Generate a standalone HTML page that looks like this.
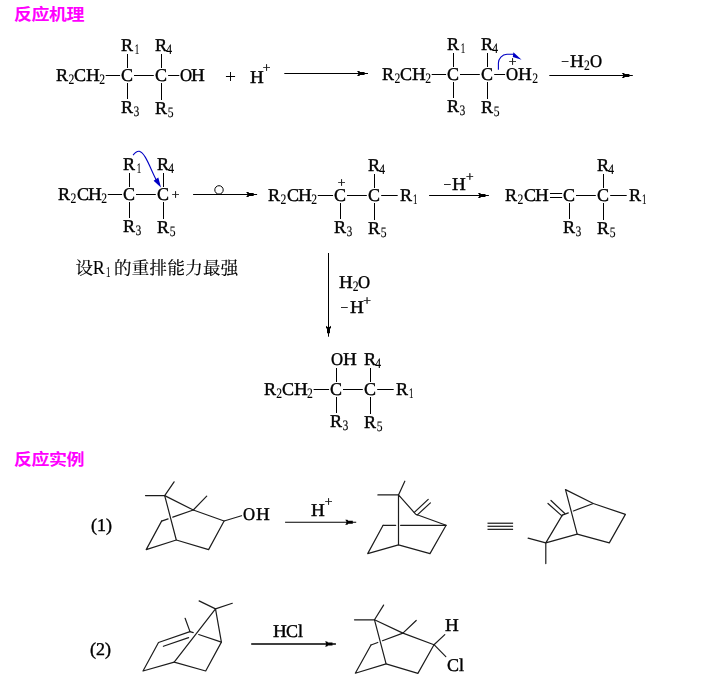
<!DOCTYPE html>
<html lang="zh"><head><meta charset="utf-8"><title>反应机理</title>
<style>
html,body{margin:0;padding:0;background:#fff;}
body{width:714px;height:685px;overflow:hidden;position:relative;font-family:"Liberation Serif","Noto Serif CJK SC",serif;}
h2{position:absolute;margin:0;left:14.2px;font:bold 15.8px/20px "Liberation Sans","Noto Sans CJK SC",sans-serif;color:#f0f;white-space:nowrap;letter-spacing:-0.45px;transform:scaleX(1.14);transform-origin:0 0}
svg{position:absolute;left:0;top:0;will-change:transform;}
svg text{font-family:"Liberation Serif","Noto Serif CJK SC",serif;fill:#000;text-rendering:geometricPrecision;white-space:pre;stroke:#000;stroke-width:0.4px}

svg text.cn{stroke-width:0.2px;font-weight:400;text-rendering:auto}
svg text.cn .l{stroke-width:0.1px}
svg text .s{stroke-width:0.15px}
</style></head><body>
<h2 style="top:5.2px">反应机理</h2>
<h2 style="top:450.2px">反应实例</h2>
<svg width="714" height="685" viewBox="0 0 714 685">
<text font-size="18"><tspan x="56" y="81">R</tspan><tspan x="68.39" y="84" font-size="14.5" class="s" textLength="5.8" lengthAdjust="spacingAndGlyphs">2</tspan><tspan x="74" y="81">C</tspan><tspan x="86" y="81" textLength="13.78" lengthAdjust="spacingAndGlyphs">H</tspan><tspan x="99.19" y="84" font-size="14.5" class="s" textLength="5.8" lengthAdjust="spacingAndGlyphs">2</tspan></text>
<line x1="105.7" y1="75.5" x2="120.1" y2="75.5" stroke="#000" stroke-width="1"/>
<text font-size="18"><tspan x="121" y="81">C</tspan></text>
<text font-size="18"><tspan x="155" y="81">C</tspan></text>
<line x1="134" y1="75.5" x2="153.8" y2="75.5" stroke="#000" stroke-width="1"/>
<text font-size="18"><tspan x="121" y="51">R</tspan><tspan x="134.71" y="54" font-size="14.5" class="s" textLength="4.5" lengthAdjust="spacingAndGlyphs">1</tspan></text>
<line x1="127.5" y1="54" x2="127.5" y2="68" stroke="#000" stroke-width="1"/>
<text font-size="18"><tspan x="121" y="113">R</tspan><tspan x="133.54" y="116" font-size="14.5" class="s" textLength="5.8" lengthAdjust="spacingAndGlyphs">3</tspan></text>
<line x1="127.5" y1="83" x2="127.5" y2="99" stroke="#000" stroke-width="1"/>
<text font-size="18"><tspan x="155" y="51">R</tspan><tspan x="166.27" y="54" font-size="14.5" class="s" textLength="5.8" lengthAdjust="spacingAndGlyphs">4</tspan></text>
<line x1="161.5" y1="54" x2="161.5" y2="68" stroke="#000" stroke-width="1"/>
<text font-size="18"><tspan x="155" y="114">R</tspan><tspan x="167.63" y="117" font-size="14.5" class="s" textLength="5.8" lengthAdjust="spacingAndGlyphs">5</tspan></text>
<line x1="161.5" y1="83" x2="161.5" y2="100" stroke="#000" stroke-width="1"/>
<line x1="168.1" y1="75.5" x2="179.3" y2="75.5" stroke="#000" stroke-width="1"/>
<text font-size="18"><tspan x="180" y="81" textLength="12.09" lengthAdjust="spacingAndGlyphs">O</tspan><tspan x="191" y="81" textLength="13.78" lengthAdjust="spacingAndGlyphs">H</tspan></text>
<text x="224.99" y="83" font-size="19.5" style="stroke-width:0.03px">+</text>
<text font-size="18"><tspan x="250" y="83" textLength="13.78" lengthAdjust="spacingAndGlyphs">H</tspan></text>
<text x="262.67" y="72" font-size="13.55" style="stroke-width:0.33px">+</text>
<line x1="284.3" y1="73.5" x2="368" y2="73.5" stroke="#000" stroke-width="1"/>
<path d="M357 71 h2.2 l0.9 1 h4.5 v3 h-4.5 l-0.9 1 h-2.2 l1.2 -1.6 v-1.8 z" fill="#000"/>
<text font-size="18"><tspan x="382" y="80">R</tspan><tspan x="394.39" y="83" font-size="14.5" class="s" textLength="5.8" lengthAdjust="spacingAndGlyphs">2</tspan><tspan x="400" y="80">C</tspan><tspan x="412" y="80" textLength="13.78" lengthAdjust="spacingAndGlyphs">H</tspan><tspan x="425.19" y="83" font-size="14.5" class="s" textLength="5.8" lengthAdjust="spacingAndGlyphs">2</tspan></text>
<line x1="431.7" y1="74.5" x2="446.1" y2="74.5" stroke="#000" stroke-width="1"/>
<text font-size="18"><tspan x="447" y="80">C</tspan></text>
<text font-size="18"><tspan x="481" y="80">C</tspan></text>
<line x1="460" y1="74.5" x2="479.8" y2="74.5" stroke="#000" stroke-width="1"/>
<text font-size="18"><tspan x="447" y="50">R</tspan><tspan x="460.71" y="53" font-size="14.5" class="s" textLength="4.5" lengthAdjust="spacingAndGlyphs">1</tspan></text>
<line x1="453.5" y1="53" x2="453.5" y2="67" stroke="#000" stroke-width="1"/>
<text font-size="18"><tspan x="447" y="112">R</tspan><tspan x="459.54" y="115" font-size="14.5" class="s" textLength="5.8" lengthAdjust="spacingAndGlyphs">3</tspan></text>
<line x1="453.5" y1="82" x2="453.5" y2="98" stroke="#000" stroke-width="1"/>
<text font-size="18"><tspan x="481" y="50">R</tspan><tspan x="492.27" y="53" font-size="14.5" class="s" textLength="5.8" lengthAdjust="spacingAndGlyphs">4</tspan></text>
<line x1="487.5" y1="53" x2="487.5" y2="67" stroke="#000" stroke-width="1"/>
<text font-size="18"><tspan x="481" y="113">R</tspan><tspan x="493.63" y="116" font-size="14.5" class="s" textLength="5.8" lengthAdjust="spacingAndGlyphs">5</tspan></text>
<line x1="487.5" y1="82" x2="487.5" y2="99" stroke="#000" stroke-width="1"/>
<line x1="494.2" y1="74.5" x2="505.1" y2="74.5" stroke="#000" stroke-width="1"/>
<text font-size="18"><tspan x="506" y="80" textLength="12.09" lengthAdjust="spacingAndGlyphs">O</tspan><tspan x="518" y="80" textLength="13.78" lengthAdjust="spacingAndGlyphs">H</tspan><tspan x="532.19" y="83" font-size="14.5" class="s" textLength="5.8" lengthAdjust="spacingAndGlyphs">2</tspan></text>
<text x="508.77" y="66" font-size="13.55" style="stroke-width:0.33px">+</text>
<line x1="549.3" y1="75.5" x2="632.8" y2="75.5" stroke="#000" stroke-width="1"/>
<path d="M621.8 73 h2.2 l0.9 1 h4.5 v3 h-4.5 l-0.9 1 h-2.2 l1.2 -1.6 v-1.8 z" fill="#000"/>
<text font-size="18"><tspan x="561.23" y="66" font-size="13.55" style="stroke-width:0.3px">−</tspan><tspan x="570" y="67" textLength="13.78" lengthAdjust="spacingAndGlyphs">H</tspan><tspan x="584.09" y="70" font-size="14.5" class="s" textLength="5.8" lengthAdjust="spacingAndGlyphs">2</tspan><tspan x="590" y="67" textLength="12.09" lengthAdjust="spacingAndGlyphs">O</tspan></text>
<path d="M498.4 69.8 L498.4 63 C498.5 58.5 502 54.5 507 54.2 L514 54.2" fill="none" stroke="#0000c4" stroke-width="1.1"/>
<path d="M521.6 59.7 L512.8 57 L513.4 52.3 Z" fill="#0000c4"/>
<text font-size="18"><tspan x="58" y="200">R</tspan><tspan x="70.49" y="203" font-size="14.5" class="s" textLength="5.8" lengthAdjust="spacingAndGlyphs">2</tspan><tspan x="77" y="200">C</tspan><tspan x="88" y="200" textLength="13.78" lengthAdjust="spacingAndGlyphs">H</tspan><tspan x="101.29" y="203" font-size="14.5" class="s" textLength="5.8" lengthAdjust="spacingAndGlyphs">2</tspan></text>
<line x1="107.8" y1="194.5" x2="122.1" y2="194.5" stroke="#000" stroke-width="1"/>
<text font-size="18"><tspan x="123" y="200">C</tspan></text>
<text font-size="18"><tspan x="157" y="200">C</tspan></text>
<line x1="136" y1="194.5" x2="155.8" y2="194.5" stroke="#000" stroke-width="1"/>
<text font-size="18"><tspan x="123" y="170">R</tspan><tspan x="136.71" y="173" font-size="14.5" class="s" textLength="4.5" lengthAdjust="spacingAndGlyphs">1</tspan></text>
<line x1="129.5" y1="173" x2="129.5" y2="187" stroke="#000" stroke-width="1"/>
<text font-size="18"><tspan x="123" y="232">R</tspan><tspan x="135.54" y="235" font-size="14.5" class="s" textLength="5.8" lengthAdjust="spacingAndGlyphs">3</tspan></text>
<line x1="129.5" y1="202" x2="129.5" y2="218" stroke="#000" stroke-width="1"/>
<text font-size="18"><tspan x="157" y="170">R</tspan><tspan x="168.27" y="173" font-size="14.5" class="s" textLength="5.8" lengthAdjust="spacingAndGlyphs">4</tspan></text>
<line x1="163.5" y1="173" x2="163.5" y2="187" stroke="#000" stroke-width="1"/>
<text font-size="18"><tspan x="157" y="233">R</tspan><tspan x="169.63" y="236" font-size="14.5" class="s" textLength="5.8" lengthAdjust="spacingAndGlyphs">5</tspan></text>
<line x1="163.5" y1="202" x2="163.5" y2="219" stroke="#000" stroke-width="1"/>
<text x="171.67" y="199" font-size="13.55" style="stroke-width:0.33px">+</text>
<line x1="193.1" y1="194.5" x2="257.1" y2="194.5" stroke="#000" stroke-width="1"/>
<path d="M246.1 192 h2.2 l0.9 1 h4.5 v3 h-4.5 l-0.9 1 h-2.2 l1.2 -1.6 v-1.8 z" fill="#000"/>
<circle cx="219" cy="189.9" r="4.2" fill="#fff" stroke="#000" stroke-width="1"/>
<path d="M133.1 155.2 C135.4 152.2 137.4 151 139.3 151.3 C145.5 153 150 168 156.8 181" fill="none" stroke="#0000c4" stroke-width="1.1"/>
<path d="M161 187.6 L153.6 180.8 L158.3 177.6 Z" fill="#0000c4"/>
<text font-size="18"><tspan x="268" y="201">R</tspan><tspan x="280.49" y="204" font-size="14.5" class="s" textLength="5.8" lengthAdjust="spacingAndGlyphs">2</tspan><tspan x="287" y="201">C</tspan><tspan x="298" y="201" textLength="13.78" lengthAdjust="spacingAndGlyphs">H</tspan><tspan x="311.29" y="204" font-size="14.5" class="s" textLength="5.8" lengthAdjust="spacingAndGlyphs">2</tspan></text>
<line x1="317.8" y1="195.5" x2="333.1" y2="195.5" stroke="#000" stroke-width="1"/>
<text font-size="18"><tspan x="334" y="201">C</tspan></text>
<text font-size="18"><tspan x="368" y="201">C</tspan></text>
<line x1="347" y1="195.5" x2="366.8" y2="195.5" stroke="#000" stroke-width="1"/>
<text font-size="18"><tspan x="334" y="233">R</tspan><tspan x="346.54" y="236" font-size="14.5" class="s" textLength="5.8" lengthAdjust="spacingAndGlyphs">3</tspan></text>
<line x1="340.5" y1="203" x2="340.5" y2="219" stroke="#000" stroke-width="1"/>
<text font-size="18"><tspan x="368" y="171">R</tspan><tspan x="379.27" y="174" font-size="14.5" class="s" textLength="5.8" lengthAdjust="spacingAndGlyphs">4</tspan></text>
<line x1="374.5" y1="174" x2="374.5" y2="188" stroke="#000" stroke-width="1"/>
<text font-size="18"><tspan x="368" y="234">R</tspan><tspan x="380.63" y="237" font-size="14.5" class="s" textLength="5.8" lengthAdjust="spacingAndGlyphs">5</tspan></text>
<line x1="374.5" y1="203" x2="374.5" y2="220" stroke="#000" stroke-width="1"/>
<line x1="381.2" y1="195.5" x2="397.7" y2="195.5" stroke="#000" stroke-width="1"/>
<text font-size="18"><tspan x="400" y="201">R</tspan><tspan x="413.01" y="204" font-size="14.5" class="s" textLength="4.5" lengthAdjust="spacingAndGlyphs">1</tspan></text>
<text x="337.67" y="187" font-size="13.55" style="stroke-width:0.33px">+</text>
<line x1="429.1" y1="195.5" x2="488.9" y2="195.5" stroke="#000" stroke-width="1"/>
<path d="M477.9 193 h2.2 l0.9 1 h4.5 v3 h-4.5 l-0.9 1 h-2.2 l1.2 -1.6 v-1.8 z" fill="#000"/>
<text font-size="18"><tspan x="443.43" y="189" font-size="13.55" style="stroke-width:0.3px">−</tspan><tspan x="452" y="190" textLength="13.78" lengthAdjust="spacingAndGlyphs">H</tspan></text>
<text x="466.07" y="181" font-size="13.55" style="stroke-width:0.33px">+</text>
<text font-size="18"><tspan x="505" y="201">R</tspan><tspan x="517.59" y="204" font-size="14.5" class="s" textLength="5.8" lengthAdjust="spacingAndGlyphs">2</tspan><tspan x="524" y="201">C</tspan><tspan x="535" y="201" textLength="13.78" lengthAdjust="spacingAndGlyphs">H</tspan></text>
<line x1="550" y1="193.5" x2="562.2" y2="193.5" stroke="#000" stroke-width="1"/>
<line x1="550" y1="197.5" x2="562.2" y2="197.5" stroke="#000" stroke-width="1"/>
<text font-size="18"><tspan x="563" y="201">C</tspan></text>
<text font-size="18"><tspan x="597" y="201">C</tspan></text>
<line x1="576" y1="195.5" x2="595.8" y2="195.5" stroke="#000" stroke-width="1"/>
<text font-size="18"><tspan x="563" y="233">R</tspan><tspan x="575.54" y="236" font-size="14.5" class="s" textLength="5.8" lengthAdjust="spacingAndGlyphs">3</tspan></text>
<line x1="569.5" y1="203" x2="569.5" y2="219" stroke="#000" stroke-width="1"/>
<text font-size="18"><tspan x="597" y="171">R</tspan><tspan x="608.27" y="174" font-size="14.5" class="s" textLength="5.8" lengthAdjust="spacingAndGlyphs">4</tspan></text>
<line x1="603.5" y1="174" x2="603.5" y2="188" stroke="#000" stroke-width="1"/>
<text font-size="18"><tspan x="597" y="234">R</tspan><tspan x="609.63" y="237" font-size="14.5" class="s" textLength="5.8" lengthAdjust="spacingAndGlyphs">5</tspan></text>
<line x1="603.5" y1="203" x2="603.5" y2="220" stroke="#000" stroke-width="1"/>
<line x1="610.2" y1="195.5" x2="626.7" y2="195.5" stroke="#000" stroke-width="1"/>
<text font-size="18"><tspan x="629" y="201">R</tspan><tspan x="642.01" y="204" font-size="14.5" class="s" textLength="4.5" lengthAdjust="spacingAndGlyphs">1</tspan></text>
<text class="cn" font-size="17.5"><tspan x="75.6" y="274" letter-spacing="0.23">设</tspan><tspan class="l" x="92.7" y="274" font-size="18">R</tspan><tspan class="l" x="106" y="277" font-size="14.5" textLength="4.5" lengthAdjust="spacingAndGlyphs">1</tspan><tspan x="114" y="274" letter-spacing="0.3">的重排能力最强</tspan></text>
<line x1="328.5" y1="253" x2="328.5" y2="336.7" stroke="#000" stroke-width="1"/>
<path d="M326 325.7 v2.2 l1 0.9 v4.5 h3 v-4.5 l1 -0.9 v-2.2 l-1.6 1.2 h-1.8 z" fill="#000"/>
<text font-size="18"><tspan x="339" y="288" textLength="13.78" lengthAdjust="spacingAndGlyphs">H</tspan><tspan x="352.79" y="291" font-size="14.5" class="s" textLength="5.8" lengthAdjust="spacingAndGlyphs">2</tspan><tspan x="358" y="288" textLength="12.09" lengthAdjust="spacingAndGlyphs">O</tspan></text>
<text font-size="18"><tspan x="340.53" y="312" font-size="13.55" style="stroke-width:0.3px">−</tspan><tspan x="350" y="313" textLength="13.78" lengthAdjust="spacingAndGlyphs">H</tspan></text>
<text x="363.27" y="305" font-size="13.55" style="stroke-width:0.33px">+</text>
<text font-size="18"><tspan x="264" y="395">R</tspan><tspan x="276.29" y="398" font-size="14.5" class="s" textLength="5.8" lengthAdjust="spacingAndGlyphs">2</tspan><tspan x="282" y="395">C</tspan><tspan x="294" y="395" textLength="13.78" lengthAdjust="spacingAndGlyphs">H</tspan><tspan x="307.09" y="398" font-size="14.5" class="s" textLength="5.8" lengthAdjust="spacingAndGlyphs">2</tspan></text>
<line x1="313.6" y1="389.5" x2="329.1" y2="389.5" stroke="#000" stroke-width="1"/>
<text font-size="18"><tspan x="330" y="395">C</tspan></text>
<text font-size="18"><tspan x="364" y="395">C</tspan></text>
<line x1="343" y1="389.5" x2="362.8" y2="389.5" stroke="#000" stroke-width="1"/>
<text font-size="18"><tspan x="331" y="365" textLength="12.09" lengthAdjust="spacingAndGlyphs">O</tspan><tspan x="343" y="365" textLength="13.78" lengthAdjust="spacingAndGlyphs">H</tspan></text>
<line x1="336.5" y1="368" x2="336.5" y2="382" stroke="#000" stroke-width="1"/>
<text font-size="18"><tspan x="330" y="427">R</tspan><tspan x="342.54" y="430" font-size="14.5" class="s" textLength="5.8" lengthAdjust="spacingAndGlyphs">3</tspan></text>
<line x1="336.5" y1="397" x2="336.5" y2="413" stroke="#000" stroke-width="1"/>
<text font-size="18"><tspan x="364" y="365">R</tspan><tspan x="375.27" y="368" font-size="14.5" class="s" textLength="5.8" lengthAdjust="spacingAndGlyphs">4</tspan></text>
<line x1="370.5" y1="368" x2="370.5" y2="382" stroke="#000" stroke-width="1"/>
<text font-size="18"><tspan x="364" y="428">R</tspan><tspan x="376.63" y="431" font-size="14.5" class="s" textLength="5.8" lengthAdjust="spacingAndGlyphs">5</tspan></text>
<line x1="370.5" y1="397" x2="370.5" y2="414" stroke="#000" stroke-width="1"/>
<line x1="377.2" y1="389.5" x2="393.7" y2="389.5" stroke="#000" stroke-width="1"/>
<text font-size="18"><tspan x="396" y="395">R</tspan><tspan x="409.01" y="398" font-size="14.5" class="s" textLength="4.5" lengthAdjust="spacingAndGlyphs">1</tspan></text>
<text font-size="18"><tspan x="91" y="531">(</tspan><tspan y="531">1)</tspan></text>
<text font-size="18"><tspan x="90" y="655">(</tspan><tspan y="655">2)</tspan></text>
<path d="M145.5 495.6 L164.7 495.6 L174.1 481.8" fill="none" stroke="#1c1c1c" stroke-width="1.2" stroke-linejoin="round" stroke-linecap="round"/>
<path d="M164.7 495.6 L193.3 510 L206.7 496.2" fill="none" stroke="#1c1c1c" stroke-width="1.2" stroke-linejoin="round" stroke-linecap="round"/>
<path d="M193.3 510 L224.1 521 L241.5 515.7" fill="none" stroke="#1c1c1c" stroke-width="1.2" stroke-linejoin="round" stroke-linecap="round"/>
<path d="M224.1 521 L208.6 549.6 L176.3 540 L164.7 495.6" fill="none" stroke="#1c1c1c" stroke-width="1.2" stroke-linejoin="round" stroke-linecap="round"/>
<path d="M176.3 540 L146.2 549.6 L161.6 521.1" fill="none" stroke="#1c1c1c" stroke-width="1.2" stroke-linejoin="round" stroke-linecap="round"/>
<path d="M161.6 521.1 L168.09 518.83" fill="none" stroke="#1c1c1c" stroke-width="1.2" stroke-linejoin="round" stroke-linecap="round"/>
<path d="M172.81 517.18 L193.3 510" fill="none" stroke="#1c1c1c" stroke-width="1.2" stroke-linejoin="round" stroke-linecap="round"/>
<text font-size="18"><tspan x="243" y="520" textLength="12.09" lengthAdjust="spacingAndGlyphs">O</tspan><tspan x="256" y="520" textLength="13.78" lengthAdjust="spacingAndGlyphs">H</tspan></text>
<line x1="285.1" y1="522.2" x2="356.2" y2="522.2" stroke="#000" stroke-width="1.15"/>
<path d="M345.2 519.7 h2.2 l0.9 1 h4.5 v3 h-4.5 l-0.9 1 h-2.2 l1.2 -1.6 v-1.8 z" fill="#000"/>
<text font-size="18"><tspan x="311" y="516" textLength="13.78" lengthAdjust="spacingAndGlyphs">H</tspan></text>
<text x="324.67" y="506" font-size="13.55" style="stroke-width:0.33px">+</text>
<path d="M377.9 494.9 L398.5 494.9 L404.8 481.2" fill="none" stroke="#1c1c1c" stroke-width="1.2" stroke-linejoin="round" stroke-linecap="round"/>
<path d="M398.5 494.9 L415.8 514.3 L446.1 525.3 L430 553.6 L398.5 544.9 L398.5 494.9" fill="none" stroke="#1c1c1c" stroke-width="1.2" stroke-linejoin="round" stroke-linecap="round"/>
<path d="M414.3 512.4 L428.2 499.4" fill="none" stroke="#1c1c1c" stroke-width="1.2" stroke-linejoin="round" stroke-linecap="round"/>
<path d="M417.1 515.1 L430.4 502.9" fill="none" stroke="#1c1c1c" stroke-width="1.2" stroke-linejoin="round" stroke-linecap="round"/>
<path d="M398.5 544.9 L367.7 553.6 L383.1 525.3" fill="none" stroke="#1c1c1c" stroke-width="1.2" stroke-linejoin="round" stroke-linecap="round"/>
<path d="M383.1 525.3 L395.7 525.3" fill="none" stroke="#1c1c1c" stroke-width="1.2" stroke-linejoin="round" stroke-linecap="round"/>
<path d="M400.6 525.3 L446.1 525.3" fill="none" stroke="#1c1c1c" stroke-width="1.2" stroke-linejoin="round" stroke-linecap="round"/>
<line x1="487.5" y1="523.2" x2="513.1" y2="523.2" stroke="#000" stroke-width="1.1"/>
<line x1="487.5" y1="526.25" x2="513.1" y2="526.25" stroke="#000" stroke-width="1.1"/>
<line x1="487.5" y1="529.3" x2="513.1" y2="529.3" stroke="#000" stroke-width="1.1"/>
<path d="M565.5 489.6 L593.3 503.5 L625.4 514.4 L609.3 542.9 L577.2 534.1 L565.5 489.6" fill="none" stroke="#1c1c1c" stroke-width="1.2" stroke-linejoin="round" stroke-linecap="round"/>
<path d="M577.2 534.1 L545.8 542.9 L562.3 515.1" fill="none" stroke="#1c1c1c" stroke-width="1.2" stroke-linejoin="round" stroke-linecap="round"/>
<path d="M562.3 515.1 L568.32 512.85" fill="none" stroke="#1c1c1c" stroke-width="1.2" stroke-linejoin="round" stroke-linecap="round"/>
<path d="M573.38 510.95 L593.3 503.5" fill="none" stroke="#1c1c1c" stroke-width="1.2" stroke-linejoin="round" stroke-linecap="round"/>
<path d="M551 500.5 L564.8 513.5" fill="none" stroke="#1c1c1c" stroke-width="1.2" stroke-linejoin="round" stroke-linecap="round"/>
<path d="M548 503.5 L561.9 515.9" fill="none" stroke="#1c1c1c" stroke-width="1.2" stroke-linejoin="round" stroke-linecap="round"/>
<path d="M528.1 538.2 L545.8 542.9 L545.8 563.6" fill="none" stroke="#1c1c1c" stroke-width="1.2" stroke-linejoin="round" stroke-linecap="round"/>
<path d="M199.1 600.9 L215.5 608.9 L232.3 603.3" fill="none" stroke="#1c1c1c" stroke-width="1.2" stroke-linejoin="round" stroke-linecap="round"/>
<path d="M215.5 608.9 L221.4 642.1 L205.7 671 L174.2 662.1 L215.5 608.9" fill="none" stroke="#1c1c1c" stroke-width="1.2" stroke-linejoin="round" stroke-linecap="round"/>
<path d="M174.2 662.1 L143 671 L158.5 642.5 L190 631.6 L185.1 618.3" fill="none" stroke="#1c1c1c" stroke-width="1.2" stroke-linejoin="round" stroke-linecap="round"/>
<path d="M163.4 646.3 L188.6 637.6" fill="none" stroke="#1c1c1c" stroke-width="1.2" stroke-linejoin="round" stroke-linecap="round"/>
<path d="M190 631.6 L193.22 632.68" fill="none" stroke="#1c1c1c" stroke-width="1.2" stroke-linejoin="round" stroke-linecap="round"/>
<path d="M198.72 634.52 L221.4 642.1" fill="none" stroke="#1c1c1c" stroke-width="1.2" stroke-linejoin="round" stroke-linecap="round"/>
<line x1="251.2" y1="644" x2="335.9" y2="644" stroke="#000" stroke-width="1.33"/>
<path d="M324.9 641.5 h2.2 l0.9 1 h4.5 v3 h-4.5 l-0.9 1 h-2.2 l1.2 -1.6 v-1.8 z" fill="#000"/>
<text font-size="18"><tspan x="273" y="637" textLength="13.78" lengthAdjust="spacingAndGlyphs">H</tspan><tspan x="286" y="637">C</tspan><tspan x="298" y="637">l</tspan></text>
<path d="M354.5 619.8 L374.5 619.8 L383.6 605.1" fill="none" stroke="#1c1c1c" stroke-width="1.2" stroke-linejoin="round" stroke-linecap="round"/>
<path d="M374.5 619.8 L402.9 633.1 L416.2 620.5" fill="none" stroke="#1c1c1c" stroke-width="1.2" stroke-linejoin="round" stroke-linecap="round"/>
<path d="M402.9 633.1 L434 644.7 L444.8 634.6" fill="none" stroke="#1c1c1c" stroke-width="1.2" stroke-linejoin="round" stroke-linecap="round"/>
<path d="M434 644.7 L445.8 656.6" fill="none" stroke="#1c1c1c" stroke-width="1.2" stroke-linejoin="round" stroke-linecap="round"/>
<path d="M434 644.7 L417.9 673.4 L386.1 663.9 L374.5 619.8" fill="none" stroke="#1c1c1c" stroke-width="1.2" stroke-linejoin="round" stroke-linecap="round"/>
<path d="M386.1 663.9 L355.3 673.2 L371 645" fill="none" stroke="#1c1c1c" stroke-width="1.2" stroke-linejoin="round" stroke-linecap="round"/>
<path d="M371 645 L377.79 642.47" fill="none" stroke="#1c1c1c" stroke-width="1.2" stroke-linejoin="round" stroke-linecap="round"/>
<path d="M382.47 640.72 L402.9 633.1" fill="none" stroke="#1c1c1c" stroke-width="1.2" stroke-linejoin="round" stroke-linecap="round"/>
<text font-size="18"><tspan x="445" y="631" textLength="13.78" lengthAdjust="spacingAndGlyphs">H</tspan></text>
<text font-size="18"><tspan x="447" y="671">C</tspan><tspan x="459" y="671">l</tspan></text>
</svg>
</body></html>
